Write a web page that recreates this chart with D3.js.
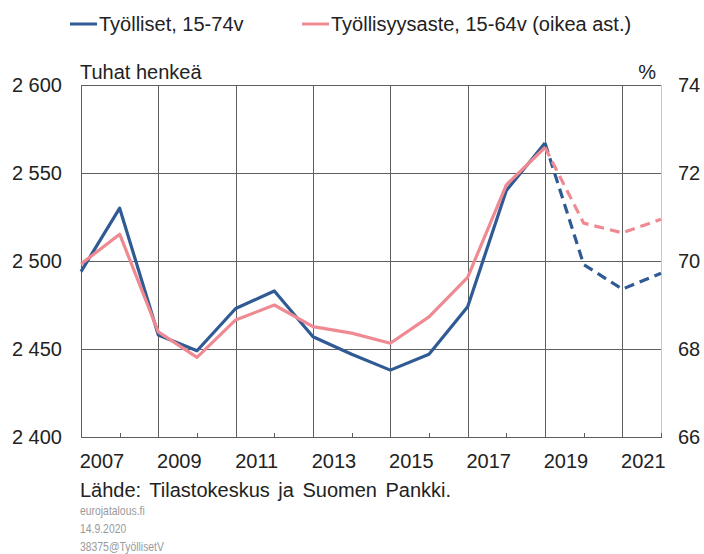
<!DOCTYPE html>
<html>
<head>
<meta charset="utf-8">
<script src="https://cdn.jsdelivr.net/npm/d3@7"></script>
<style>
  body { margin: 0; background: #fff; }
  text { font-family: 'Liberation Sans', Arial, sans-serif; fill: #222; }
</style>
</head>
<body>
<div id="chart"></div>
<script>
// years 2006..2021, from 2018 onwards forecast (dashed)
const years = [2006, 2007, 2008, 2009, 2010, 2011, 2012, 2013, 2014, 2015, 2016, 2017, 2018, 2019, 2020, 2021]
const employed = [2494, 2530, 2458, 2449, 2473, 2483, 2457, 2447, 2438, 2447, 2474, 2540, 2567, 2498, 2484, 2493]
const employmentRate = [69.93, 70.61, 68.39, 67.81, 68.66, 69.0, 68.51, 68.36, 68.13, 68.73, 69.63, 71.73, 72.58, 70.86, 70.64, 70.95]
const forecastStart = 2018
const leftTicks = [2400, 2450, 2500, 2550, 2600]
const rightTicks = [66, 68, 70, 72, 74]
const labelYears = [2007, 2009, 2011, 2013, 2015, 2017, 2019, 2021]
const seriesNames = ['Työlliset, 15-74v', 'Työllisyysaste, 15-64v (oikea ast.)']
const footer = ['eurojatalous.fi', '14.9.2020', '38375@TyöllisetV']

const blue = '#2f5a94'
const pink = '#f08a92'
const gridColor = '#5e5e5e'

const width = 704
const height = 554
const margin = { top: 85, left: 81, right: 43, bottom: 117 }

const svg = d3
  .select('#chart')
  .append('svg')
  .attr('width', width)
  .attr('height', height)

const x = d3.scaleLinear().domain([2006, 2021]).range([margin.left, width - margin.right])
const yLeft = d3.scaleLinear().domain([2400, 2600]).range([height - margin.bottom, margin.top])
const yRight = d3.scaleLinear().domain([66, 74]).range([height - margin.bottom, margin.top])

const x0 = x.range()[0]
const x1 = x.range()[1]
const yTop = yLeft.range()[1]
const yBot = yLeft.range()[0]

// gridlines
svg.append('g')
  .selectAll('line')
  .data(leftTicks.slice(1))
  .enter()
  .append('line')
  .attr('x1', x0)
  .attr('x2', x1)
  .attr('y1', d => Math.round(yLeft(d)) + 0.5)
  .attr('y2', d => Math.round(yLeft(d)) + 0.5)
  .attr('stroke', gridColor)
  .attr('stroke-width', 1)

const evenYears = years.filter(d => d % 2 === 0)
svg.append('g')
  .selectAll('line')
  .data(evenYears)
  .enter()
  .append('line')
  .attr('x1', d => Math.round(x(d)) + 0.5)
  .attr('x2', d => Math.round(x(d)) + 0.5)
  .attr('y1', yTop)
  .attr('y2', yBot)
  .attr('stroke', gridColor)
  .attr('stroke-width', 1)

// right edge
svg.append('line')
  .attr('x1', Math.round(x1) + 0.5)
  .attr('x2', Math.round(x1) + 0.5)
  .attr('y1', yTop)
  .attr('y2', yBot)
  .attr('stroke', '#c8c8c8')

// bottom axis with small ticks at odd years
svg.append('line')
  .attr('x1', x0)
  .attr('x2', x1 + 1)
  .attr('y1', Math.round(yBot) + 0.5)
  .attr('y2', Math.round(yBot) + 0.5)
  .attr('stroke', gridColor)

svg.append('g')
  .selectAll('line')
  .data(years.filter(d => d % 2 === 1))
  .enter()
  .append('line')
  .attr('x1', d => Math.round(x(d)) + 0.5)
  .attr('x2', d => Math.round(x(d)) + 0.5)
  .attr('y1', yBot - 4)
  .attr('y2', yBot)
  .attr('stroke', gridColor)

// axis labels
svg.append('g')
  .selectAll('text')
  .data(leftTicks)
  .enter()
  .append('text')
  .attr('x', 62)
  .attr('y', d => yLeft(d) + 7)
  .attr('text-anchor', 'end')
  .attr('font-size', 20)
  .text(d => d3.format(',')(d).replace(',', ' '))

svg.append('g')
  .selectAll('text')
  .data(rightTicks)
  .enter()
  .append('text')
  .attr('x', 678)
  .attr('y', d => yRight(d) + 7)
  .attr('font-size', 20)
  .text(d => d)

svg.append('g')
  .selectAll('text')
  .data(labelYears)
  .enter()
  .append('text')
  .attr('x', d => x(d - 1) + 21)
  .attr('y', 468)
  .attr('text-anchor', 'middle')
  .attr('font-size', 20)
  .text(d => d)

svg.append('text')
  .attr('x', 80)
  .attr('y', 79)
  .attr('font-size', 20)
  .text('Tuhat henkeä')

svg.append('text')
  .attr('x', 656)
  .attr('y', 79)
  .attr('text-anchor', 'end')
  .attr('font-size', 20)
  .text('%')

// lines
function drawSeries(values, yScale, color) {
  const pts = years.map((yr, i) => [x(yr), yScale(values[i])])
  const split = years.indexOf(forecastStart)
  const line = d3.line()
  svg.append('path')
    .attr('d', line(pts.slice(0, split + 1)))
    .attr('fill', 'none')
    .attr('stroke', color)
    .attr('stroke-width', 3.2)
    .attr('stroke-linejoin', 'round')
  svg.append('path')
    .attr('d', line(pts.slice(split)))
    .attr('fill', 'none')
    .attr('stroke', color)
    .attr('stroke-width', 3.2)
    .attr('stroke-dasharray', '10,6')
}
drawSeries(employed, yLeft, blue)
drawSeries(employmentRate, yRight, pink)

// legend
const legend = [
  { name: seriesNames[0], color: blue, x: 70 },
  { name: seriesNames[1], color: pink, x: 302 }
]
legend.forEach(d => {
  svg.append('line')
    .attr('x1', d.x)
    .attr('x2', d.x + 27)
    .attr('y1', 24)
    .attr('y2', 24)
    .attr('stroke', d.color)
    .attr('stroke-width', 3)
  svg.append('text')
    .attr('x', d.x + 29)
    .attr('y', 31)
    .attr('font-size', 20)
    .text(d.name)
})

// source + footer
svg.append('text')
  .attr('x', 80)
  .attr('y', 497)
  .attr('font-size', 20)
  .attr('word-spacing', 3)
  .text('Lähde: Tilastokeskus ja Suomen Pankki.')

// footer is a narrow font in the original, squeeze it a bit
svg.append('g')
  .selectAll('text')
  .data(footer)
  .enter()
  .append('text')
  .attr('transform', (d, i) => `translate(80,${515 + i * 18}) scale(0.8,1)`)
  .attr('font-size', 13)
  .style('fill', '#9a9a9a')
  .text(d => d)
</script>
</body>
</html>
